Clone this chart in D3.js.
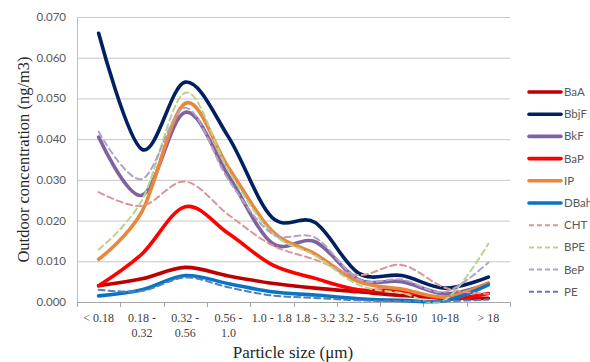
<!DOCTYPE html>
<html>
<head>
<meta charset="utf-8">
<script src="https://cdn.jsdelivr.net/npm/d3@7/dist/d3.min.js"></script>
<style>
  body { margin: 0; background: #fff; }
  svg { display: block; }
</style>
</head>
<body>
<svg id="chart" width="590" height="362"></svg>
<script>
// categories (particle size bins) and their two-line tick labels
const categories = ['<0.18', '0.18-0.32', '0.32-0.56', '0.56-1.0', '1.0-1.8', '1.8-3.2', '3.2-5.6', '5.6-10', '10-18', '>18'];
const tickLabels = [['< 0.18'], ['0.18 -', '0.32'], ['0.32 -', '0.56'], ['0.56 -', '1.0'], ['1.0 - 1.8'], ['1.8 - 3.2'], ['3.2 - 5.6'], ['5.6-10'], ['10-18'], ['> 18']];
const yTicks = [0, 0.01, 0.02, 0.03, 0.04, 0.05, 0.06, 0.07];

// series values (ng/m3)
const BaA   = [0.0040, 0.0057, 0.0085, 0.0064, 0.0046, 0.0034, 0.0025, 0.0016, 0.0010, 0.0009];
const BbjF  = [0.0660, 0.0375, 0.0540, 0.0405, 0.0208, 0.0195, 0.0071, 0.0065, 0.0034, 0.0061];
const BkF   = [0.0405, 0.0262, 0.0466, 0.0310, 0.0145, 0.0148, 0.0055, 0.0050, 0.0020, 0.0045];
const BaP   = [0.0040, 0.0118, 0.0234, 0.0168, 0.0092, 0.0058, 0.0030, 0.0028, 0.0008, 0.0021];
const IP    = [0.0105, 0.0222, 0.0488, 0.0330, 0.0175, 0.0118, 0.0050, 0.0032, 0.0012, 0.0047];
const DBahA = [0.0015, 0.0030, 0.0065, 0.0045, 0.0025, 0.0017, 0.0008, 0.0004, 0.0003, 0.0042];
const CHT   = [0.0270, 0.0236, 0.0296, 0.0214, 0.0140, 0.0104, 0.0066, 0.0091, 0.0035, 0.0020];
const BPE   = [0.0129, 0.0250, 0.0514, 0.0322, 0.0170, 0.0114, 0.0042, 0.0022, 0.0005, 0.0143];
const BeP   = [0.0418, 0.0302, 0.0477, 0.0300, 0.0168, 0.0158, 0.0056, 0.0055, 0.0025, 0.0097];
const PE    = [0.0030, 0.0027, 0.0060, 0.0036, 0.0016, 0.0010, 0.0004, 0.0002, 0.0002, 0.0006];

const seriesNames = ['BaA', 'BbjF', 'BkF', 'BaP', 'IP', 'DBahA', 'CHT', 'BPE', 'BeP', 'PE'];
const seriesValues = [BaA, BbjF, BkF, BaP, IP, DBahA, CHT, BPE, BeP, PE];
const seriesColors = ['#C00000', '#002060', '#7F63A1', '#FF0000', '#E8883C', '#0A74C4', '#D99694', '#B9D38E', '#B3A2C7', '#4F81BD'];
const seriesDashed = [false, false, false, false, false, false, true, true, true, true];

const svg = d3.select('svg#chart');

const x = d3.scaleBand()
  .domain(categories)
  .range([77, 510]);

const y = d3.scaleLinear()
  .domain([0, 0.07])
  .range([302, 17]);

// gridlines
svg.append('g')
  .selectAll('line')
  .data(yTicks.slice(1))
  .join('line')
  .attr('x1', x.range()[0])
  .attr('x2', x.range()[1])
  .attr('y1', d => y(d) + 0.5)
  .attr('y2', d => y(d) + 0.5)
  .attr('stroke', '#C6C6C6')
  .attr('stroke-width', 1);

// y axis line
svg.append('line')
  .attr('x1', x.range()[0] + 0.5)
  .attr('x2', x.range()[0] + 0.5)
  .attr('y1', y(0.07))
  .attr('y2', y(0))
  .attr('stroke', '#BFBFBF');

// x axis line
svg.append('line')
  .attr('x1', x.range()[0])
  .attr('x2', x.range()[1])
  .attr('y1', y(0) + 0.5)
  .attr('y2', y(0) + 0.5)
  .attr('stroke', '#A6A6A6');

// x ticks at band boundaries
const bounds = categories.map(c => x(c)).concat([x.range()[1]]);
svg.append('g')
  .selectAll('line')
  .data(bounds)
  .join('line')
  .attr('x1', d => Math.round(d) + 0.5)
  .attr('x2', d => Math.round(d) + 0.5)
  .attr('y1', y(0))
  .attr('y2', y(0) + 5)
  .attr('stroke', '#A6A6A6');

// y tick labels
svg.append('g')
  .selectAll('text')
  .data(yTicks)
  .join('text')
  .attr('x', 66)
  .attr('y', d => y(d) + 4)
  .attr('text-anchor', 'end')
  .attr('font-family', 'Lato, "Open Sans", sans-serif')
  .attr('font-size', '11.5px')
  .attr('fill', '#595959')
  .text(d => d3.format('.3f')(d));

// x tick labels
const xl = svg.append('g')
  .selectAll('text')
  .data(categories)
  .join('text')
  .attr('x', d => x(d) + x.bandwidth() / 2)
  .attr('y', 322)
  .attr('text-anchor', 'middle')
  .attr('font-family', '"Liberation Serif", "Times New Roman", serif')
  .attr('font-size', '12px')
  .attr('fill', '#404040');
xl.selectAll('tspan')
  .data((d, i) => tickLabels[i])
  .join('tspan')
  .attr('x', function () { return d3.select(this.parentNode).attr('x'); })
  .attr('dy', (d, i) => i === 0 ? 0 : 15)
  .text(d => d);

// axis titles
svg.append('text')
  .attr('transform', 'translate(29,' + ((y(0) + y(0.07)) / 2) + ') rotate(-90)')
  .attr('text-anchor', 'middle')
  .attr('font-family', '"Liberation Serif", "Times New Roman", serif')
  .attr('font-size', '16.5px')
  .attr('fill', '#262626')
  .text('Outdoor concentration  (ng/m3)');

svg.append('text')
  .attr('x', 293)
  .attr('y', 358)
  .attr('text-anchor', 'middle')
  .attr('font-family', '"Liberation Serif", "Times New Roman", serif')
  .attr('font-size', '17px')
  .attr('fill', '#262626')
  .text('Particle size (\u03bcm)');

// smoothed lines
const line = d3.line()
  .x((d, i) => x(categories[i]) + x.bandwidth() / 2)
  .y(d => y(d))
  .curve(d3.curveCatmullRom.alpha(0));

svg.append('g')
  .selectAll('path')
  .data(seriesValues)
  .join('path')
  .attr('d', d => line(d))
  .attr('fill', 'none')
  .attr('stroke', (d, i) => seriesColors[i])
  .attr('stroke-width', (d, i) => seriesDashed[i] ? 2 : 3.6)
  .attr('stroke-dasharray', (d, i) => seriesDashed[i] ? '6,4' : null)
  .attr('stroke-linecap', 'round')
  .attr('stroke-linejoin', 'round');

// legend
const legend = svg.append('g')
  .selectAll('g')
  .data(seriesNames)
  .join('g')
  .attr('transform', (d, i) => 'translate(528,' + (92 + i * 22.2) + ')');

legend.append('line')
  .attr('x1', 1)
  .attr('x2', 33)
  .attr('stroke', (d, i) => seriesColors[i])
  .attr('stroke-width', (d, i) => seriesDashed[i] ? 2 : 3.6)
  .attr('stroke-dasharray', (d, i) => seriesDashed[i] ? '5,3' : null)
  .attr('stroke-linecap', (d, i) => seriesDashed[i] ? 'butt' : 'round');

legend.append('text')
  .attr('x', 36)
  .attr('y', 4)
  .attr('font-family', 'Lato, "Open Sans", sans-serif')
  .attr('font-size', '11.5px')
  .attr('fill', '#595959')
  .text(d => d);
</script>
</body>
</html>
